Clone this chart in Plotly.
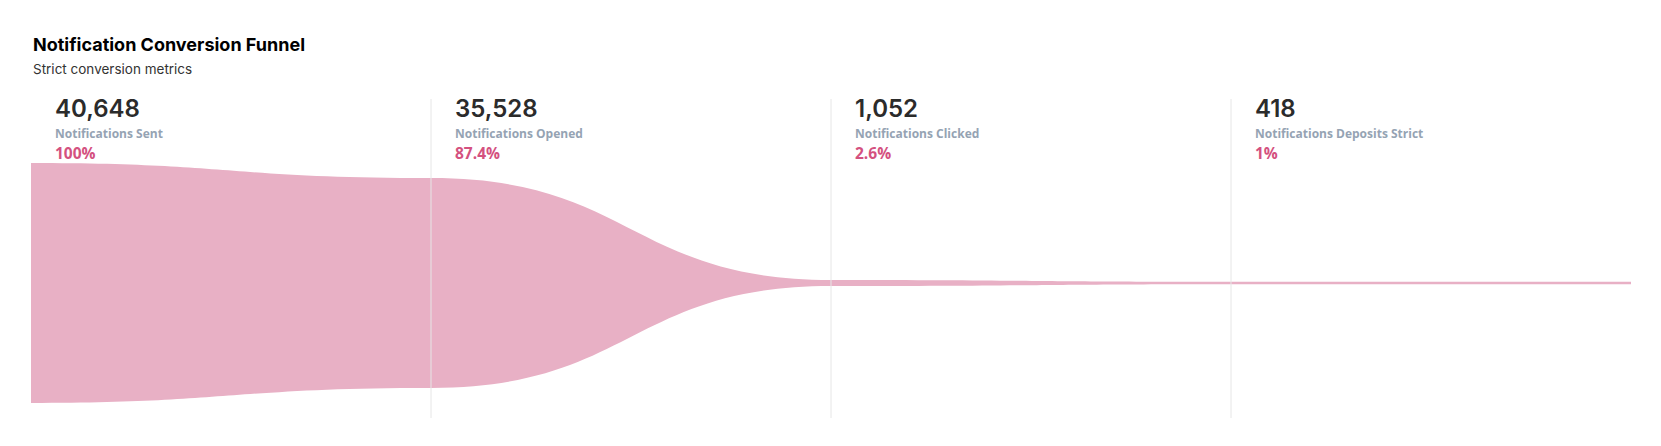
import plotly.graph_objects as go

stages = ["Notifications Sent", "Notifications Opened", "Notifications Clicked", "Notifications Deposits Strict"]
values = [40648, 35528, 1052, 418]
percent_labels = ["100%", "87.4%", "2.6%", "1%"]

# page body has an 8px margin; compensate so the page pixels line up
OFF = 8
W, H = 1661 - 2 * OFF, 446 - 2 * OFF
ML, MR, MT, MB = 23, W - 23 - 1600, 91, H - 91 - 319
plot_h = H - MT - MB
FUNNEL_H = 240  # px for 100%
center_from_top = 283 - 99
y_top = center_from_top * 100 / FUNNEL_H
y_bot = -(plot_h - center_from_top) * 100 / FUNNEL_H

pct = [v / values[0] * 100 for v in values]
pts = pct + [pct[-1]]
n = len(pts)

# funnel outline: cubic bezier segments with flat tangents at each stage
path = f"M 0,{pts[0]/2}"
for i in range(n - 1):
    xm = i + 0.5
    a, b = pts[i] / 2, pts[i + 1] / 2
    path += f" C {xm},{a} {xm},{b} {i+1},{b}"
path += f" L {n-1},{-pts[-1]/2}"
for i in range(n - 1, 0, -1):
    xm = i - 0.5
    a, b = -pts[i] / 2, -pts[i - 1] / 2
    path += f" C {xm},{a} {xm},{b} {i-1},{b}"
path += " Z"

fig = go.Figure()
fig.add_trace(go.Scatter(x=[0, n - 1], y=[0, 0], mode="markers", marker=dict(opacity=0),
                         hoverinfo="skip", showlegend=False))

shapes = [dict(type="path", path=path, xref="x", yref="y", fillcolor="#e8b0c5",
               line=dict(width=0), layer="below")]
for i in range(1, len(stages)):
    shapes.append(dict(type="line", xref="x", yref="paper", x0=i, x1=i, y0=0, y1=1,
                       line=dict(color="#e6e6e6", width=1), layer="above"))

def py(p):
    # page pixel y -> paper coordinate
    return (418 - p) / plot_h

annotations = [
    dict(text="<b>Notification Conversion Funnel</b>", xref="paper", yref="paper", x=0, y=py(44),
         xanchor="left", yanchor="middle", showarrow=False,
         font=dict(family="Inter", size=18, color="#000000")),
    dict(text="Strict conversion metrics", xref="paper", yref="paper", x=0, y=py(69),
         xanchor="left", yanchor="middle", showarrow=False,
         font=dict(family="Inter", size=13.5, color="#333333")),
]
for i, (s, v, p) in enumerate(zip(stages, values, percent_labels)):
    annotations.append(dict(text=f"{v:,}", xref="x", yref="paper", x=i, xshift=22, y=py(108),
                            xanchor="left", yanchor="middle", showarrow=False,
                            font=dict(family="Inter", size=24, color="#2b2b2b", weight=600)))
    annotations.append(dict(text=s, xref="x", yref="paper", x=i, xshift=22, y=py(133),
                            xanchor="left", yanchor="middle", showarrow=False,
                            font=dict(family="Open Sans", size=12, color="#95a3b3", weight=700)))
    annotations.append(dict(text=p, xref="x", yref="paper", x=i, xshift=22, y=py(153),
                            xanchor="left", yanchor="middle", showarrow=False,
                            font=dict(family="Open Sans", size=15.5, color="#d4517f", weight=700)))

fig.update_layout(
    width=W, height=H,
    margin=dict(l=ML, r=MR, t=MT, b=MB),
    paper_bgcolor="white", plot_bgcolor="white",
    xaxis=dict(range=[0, n - 1], visible=False, fixedrange=True),
    yaxis=dict(range=[y_bot, y_top], visible=False, fixedrange=True),
    shapes=shapes, annotations=annotations,
    showlegend=False,
)
fig.write_html("out.html")
